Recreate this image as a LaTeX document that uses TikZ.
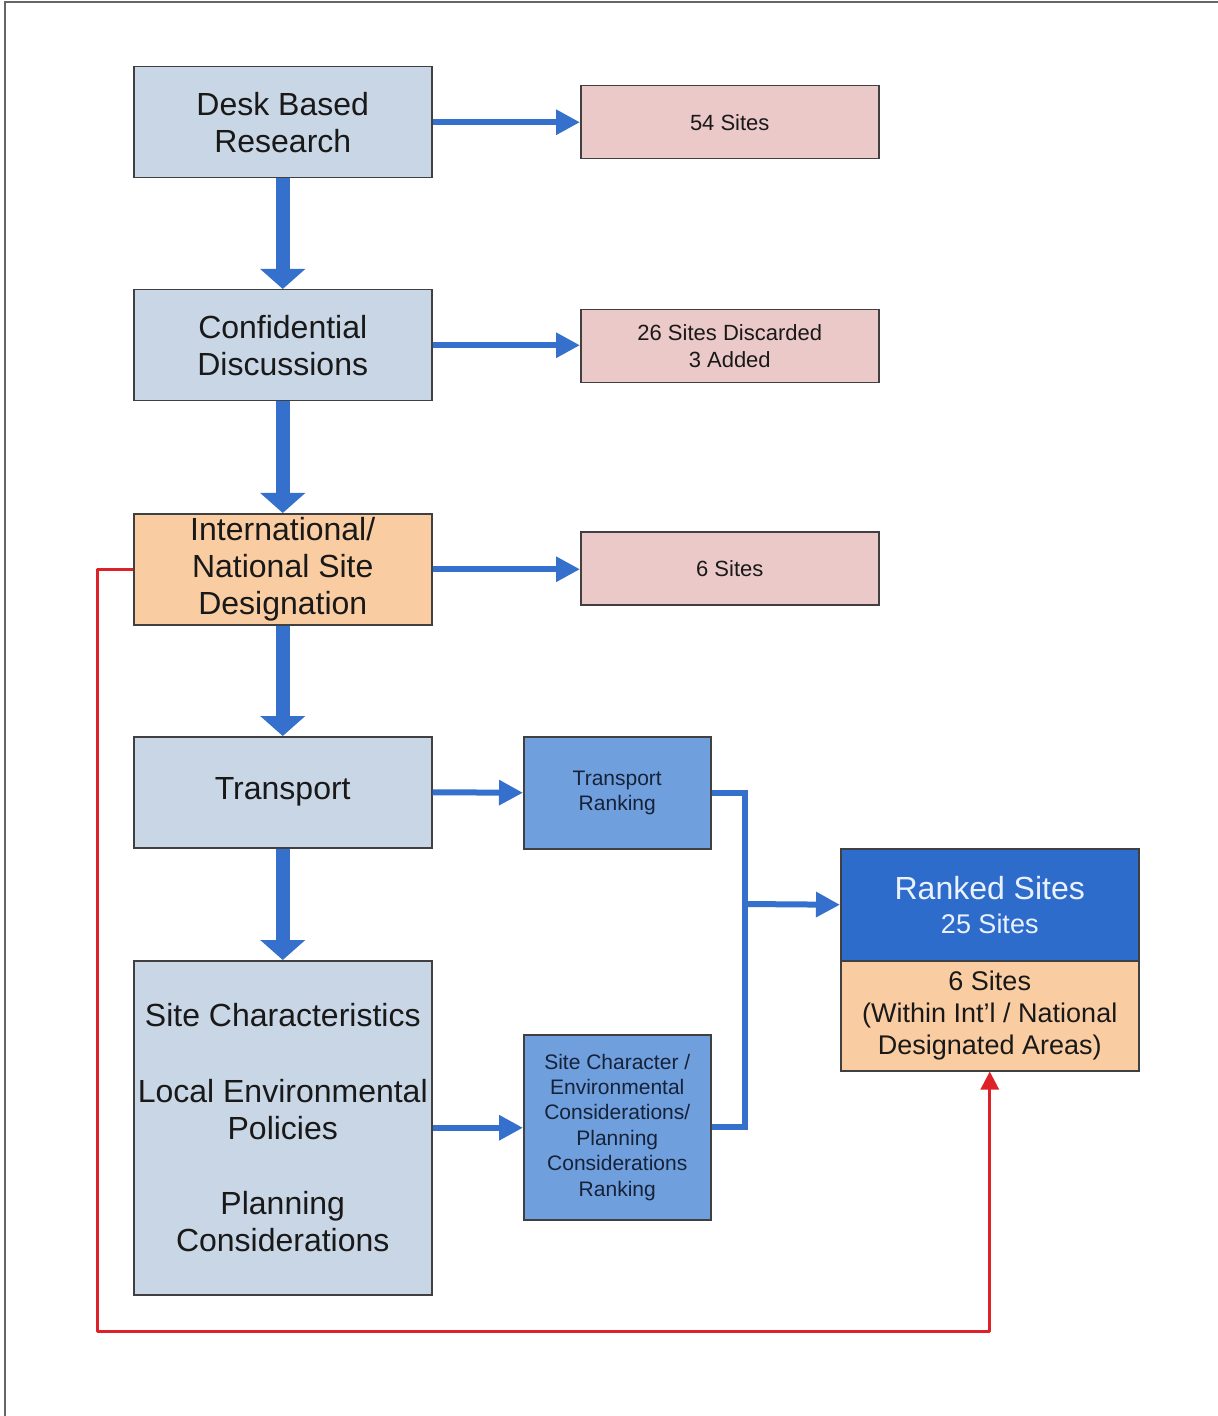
\documentclass[tikz,border=0pt]{standalone}
\usepackage{fontspec}
\setmainfont{Liberation Sans}
\usetikzlibrary{arrows.meta}
\definecolor{grayblue}{RGB}{201,214,229}
\definecolor{pinkbox}{RGB}{234,201,200}
\definecolor{peach}{RGB}{250,204,162}
\definecolor{rankblue}{RGB}{112,159,222}
\definecolor{darkblue}{RGB}{46,108,204}
\definecolor{arrowblue}{RGB}{52,112,204}
\definecolor{redline}{RGB}{222,32,40}
\definecolor{boxline}{RGB}{64,64,64}
\definecolor{txt}{RGB}{25,25,25}
\definecolor{navytxt}{RGB}{22,34,56}
\definecolor{whitetxt}{RGB}{235,242,255}
\tikzset{
  basebox/.style={draw=boxline, line width=0.75pt, inner sep=0pt, align=center, anchor=north west},
  bigbox/.style={basebox, fill=grayblue, text=txt, minimum width=149pt, minimum height=55.5pt,
    font=\fontsize{16}{18.5}\selectfont},
  pinkb/.style={basebox, fill=pinkbox, text=txt, minimum width=149pt, minimum height=36.5pt,
    font=\fontsize{11}{13.5}\selectfont},
  rankb/.style={basebox, fill=rankblue, text=navytxt, minimum width=93.5pt,
    font=\fontsize{10.5}{12.7}\selectfont},
  thickarrow/.style={draw=arrowblue, line width=7pt, -{Triangle[width=22pt,length=10pt]}},
  thinarrow/.style={draw=arrowblue, line width=3pt, -{Triangle[width=12pt,length=12pt]}},
  thinline/.style={draw=arrowblue, line width=3pt, line join=miter},
  redarrow/.style={draw=redline, line width=1.5pt, line join=round, -{Triangle[width=9pt,length=9pt]}}
}
\begin{document}
\begin{tikzpicture}[x=0.5pt,y=-0.5pt]
\path[use as bounding box] (0,0) rectangle (1218,1416);
\draw[boxline!80, line width=1pt] (5,1416) -- (5,2) -- (1218,2);

% left column
\node[bigbox] (desk) at (133,66) {Desk Based\\Research};
\node[bigbox] (conf) at (133,289) {Confidential\\Discussions};
\node[bigbox, fill=peach] (intl) at (133,513) {International/\\National Site\\Designation};
\node[bigbox] (trans) at (133,736) {Transport};
\node[bigbox, minimum height=167pt] (site) at (133,960)
  {Site Characteristics\\[19.5pt]Local Environmental\\Policies\\[19pt]Planning\\Considerations};

% result boxes
\node[pinkb] (s54) at (580,85) {54 Sites};
\node[pinkb] (s26) at (580,309) {26 Sites Discarded\\3 Added};
\node[pinkb] (s6) at (580,531) {6 Sites};

% ranking boxes
\node[rankb, minimum height=56pt] (tr) at (523,736) {Transport\\Ranking};
\node[rankb, minimum height=92.5pt] (scr) at (523,1034)
  {Site Character /\\Environmental\\Considerations/\\Planning\\Considerations\\Ranking};

% ranked sites
\node[basebox, fill=darkblue, text=whitetxt, minimum width=149pt, minimum height=56pt,
  font=\fontsize{16}{17}\selectfont] (rk) at (840,848)
  {Ranked Sites\\{\fontsize{13.5}{17}\selectfont 25 Sites}};
\node[basebox, fill=peach, text=txt, minimum width=149pt, minimum height=55pt,
  font=\fontsize{13.5}{16}\selectfont] (rkb) at (840,960)
  {6 Sites\\(Within Int'l / National\\Designated Areas)};

% vertical flow
\draw[thickarrow] (desk.south) -- (conf.north);
\draw[thickarrow] (conf.south) -- (intl.north);
\draw[thickarrow] (intl.south) -- (trans.north);
\draw[thickarrow] (trans.south) -- (site.north);

% horizontal arrows
\draw[thinarrow] (desk.east) -- (s54.west);
\draw[thinarrow] (conf.east) -- (conf.east -| s26.west);
\draw[thinarrow] (intl.east) -- (intl.east -| s6.west);
\draw[thinarrow] (trans.east) -- (tr.west);
\draw[thinarrow] (site.east) -- (site.east -| scr.west);

% merge to ranked sites
\coordinate (jx) at (745,904);
\draw[thinline] (tr.east) -| (jx) |- (scr.east);
\draw[thinarrow] (jx) -- (rk.west);

% red feedback line
\coordinate (rc) at (97,1331);
\draw[redarrow] (intl.west) -| (rc) -| (rkb.south);
\end{tikzpicture}
\end{document}
